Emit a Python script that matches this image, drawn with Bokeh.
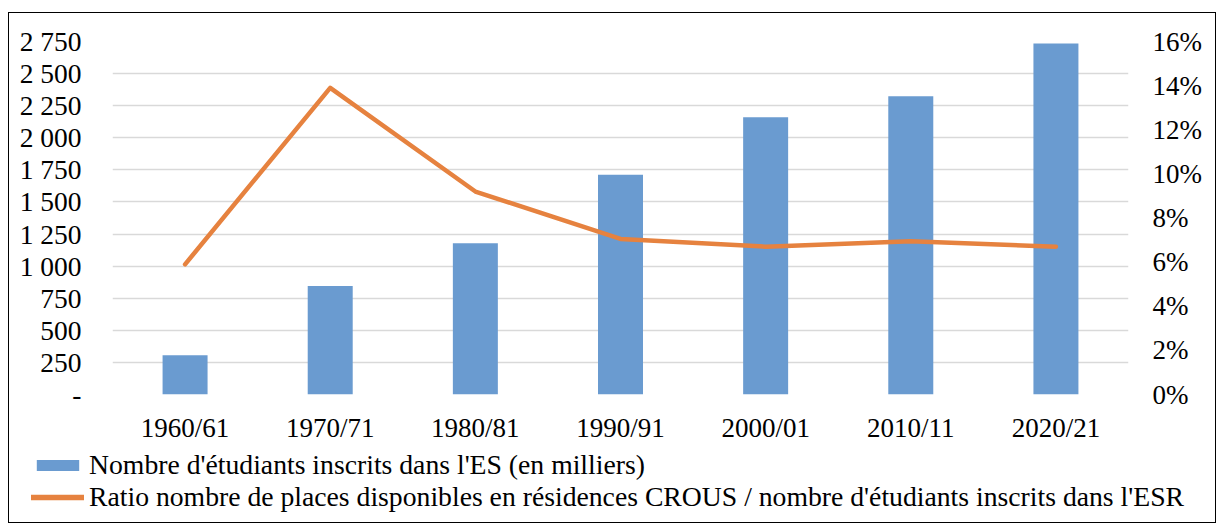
from bokeh.plotting import figure
from bokeh.layouts import column
from bokeh.models import (ColumnDataSource, FactorRange, Range1d, LinearAxis, FixedTicker,
                          Legend, LegendItem)
from bokeh.embed import file_html
from bokeh.resources import INLINE

categories = ["1960/61", "1970/71", "1980/81", "1990/91", "2000/01", "2010/11", "2020/21"]
students_k = [305, 845, 1178, 1712, 2160, 2323, 2735]
ratio = [0.059, 0.139, 0.092, 0.0705, 0.067, 0.0695, 0.067]
left_ticks = [0, 250, 500, 750, 1000, 1250, 1500, 1750, 2000, 2250, 2500, 2750]
left_labels = ["-", "250", "500", "750", "1 000", "1 250", "1 500", "1 750", "2 000", "2 250", "2 500", "2 750"]
right_ticks = [0, 0.02, 0.04, 0.06, 0.08, 0.10, 0.12, 0.14, 0.16]
right_labels = ["0%", "2%", "4%", "6%", "8%", "10%", "12%", "14%", "16%"]
legend_labels = ["Nombre d'étudiants inscrits dans l'ES (en milliers)",
                 "Ratio nombre de places disponibles en résidences CROUS / nombre d'étudiants inscrits dans l'ESR"]

FONT = "Liberation Serif"
FS = "27px"
BAR_COLOR = "#6A9BD0"
LINE_COLOR = "#E6823F"
W = 1206

src = ColumnDataSource(dict(cat=categories, val=students_k, ratio=ratio))

p = figure(width=W, height=432, x_range=FactorRange(*categories, range_padding=0),
           y_range=Range1d(0, 2750), output_backend="svg", toolbar_location=None,
           min_border_left=103, min_border_right=87, min_border_top=28, min_border_bottom=49)
p.extra_y_ranges = {"pct": Range1d(0, 0.16)}
p.outline_line_color = None

bars = p.vbar(x="cat", top="val", width=0.31, source=src, fill_color=BAR_COLOR, line_color=None)
line = p.line(x="cat", y="ratio", source=src, y_range_name="pct", line_color=LINE_COLOR,
              line_width=4.5, line_cap="round", line_join="round")

def style_axis(ax, standoff, size=FS):
    ax.axis_line_color = None
    ax.major_tick_line_color = None
    ax.minor_tick_line_color = None
    ax.major_tick_out = 0
    ax.major_tick_in = 0
    ax.minor_tick_out = 0
    ax.major_label_text_font = FONT
    ax.major_label_text_font_size = size
    ax.major_label_text_color = "black"
    ax.major_label_standoff = standoff

style_axis(p.xaxis[0], 18)

p.yaxis.ticker = FixedTicker(ticks=left_ticks)
p.yaxis.major_label_overrides = {t: l for t, l in zip(left_ticks, left_labels)}
style_axis(p.yaxis[0], 31, "27.5px")

raxis = LinearAxis(y_range_name="pct", ticker=FixedTicker(ticks=right_ticks))
raxis.major_label_overrides = {t: l for t, l in zip(right_ticks, right_labels)}
style_axis(raxis, 24)
p.add_layout(raxis, "right")

p.xgrid.grid_line_color = None
p.ygrid.grid_line_color = "#D9D9D9"
p.ygrid.grid_line_width = 1.5
p.ygrid.ticker = FixedTicker(ticks=left_ticks)

# legend figure: same data, drawn outside its visible range, only used for the legend
lf = figure(width=W, height=77, x_range=FactorRange(*categories), y_range=Range1d(1e6, 2e6),
            x_axis_type=None, y_axis_type=None, output_backend="svg", toolbar_location=None,
            min_border=0)
lf.outline_line_color = None
lf.grid.visible = False
pb = lf.vbar(x="cat", top="val", width=0.31, source=src, fill_color=BAR_COLOR, line_color=None)
pl = lf.line(x="cat", y="ratio", source=src, line_color=LINE_COLOR, line_width=5.5, line_cap="round")
legend = Legend(items=[LegendItem(label=legend_labels[0], renderers=[pb]),
                       LegendItem(label=legend_labels[1], renderers=[pl])],
                location=(22, 9), orientation="vertical",
                label_text_font=FONT, label_text_font_size="27.7px", label_text_color="black",
                glyph_width=53, glyph_height=14, label_standoff=5, spacing=0,
                padding=0, margin=0, border_line_alpha=0, background_fill_alpha=0)
lf.add_layout(legend, "center")

layout = column(p, column(lf, spacing=0), spacing=0, margin=(12, 0, 0, 8),
                styles={"border": "1.3px solid black"})

open("out.html", "w").write(file_html(layout, INLINE))
